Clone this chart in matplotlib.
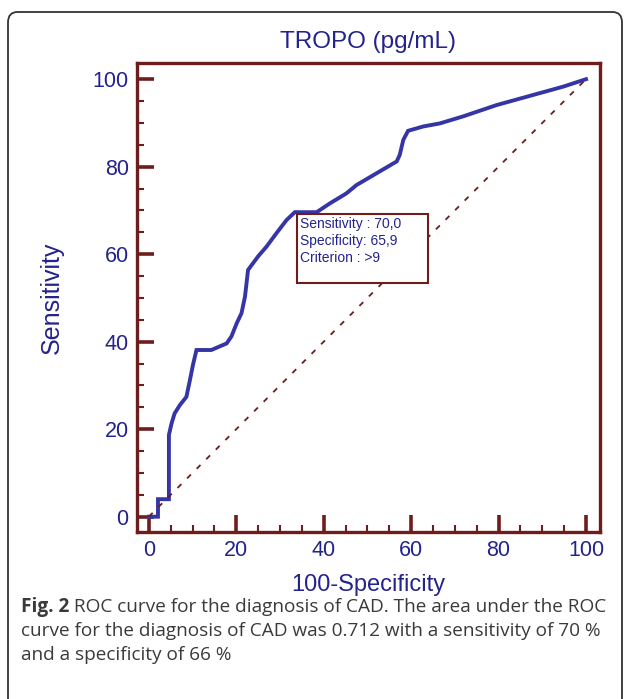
import matplotlib
matplotlib.use("Agg")
import matplotlib.pyplot as plt
from matplotlib.patches import FancyBboxPatch, Rectangle

# ROC curve points (100-Specificity, Sensitivity)
fpr = [0, 2.1, 2.1, 4.6, 4.6, 5.2, 5.9, 7.1, 8.6, 9.4, 10.1, 10.9, 14.3, 17.8,
       18.9, 20.1, 21.2, 22.0, 22.7, 25.0, 26.9, 29.2, 31.5, 33.4, 38.4, 41.4,
       45.2, 47.5, 52.1, 56.7, 57.4, 58.2, 59.3, 62.8, 66.6, 71.9, 79.6, 87.2,
       94.8, 100]
tpr = [0, 0, 4.0, 4.0, 18.7, 21.3, 23.6, 25.5, 27.4, 31.2, 34.7, 38.1, 38.1,
       39.6, 41.2, 44.2, 46.5, 50.3, 56.4, 59.5, 61.7, 64.8, 67.8, 69.6, 69.6,
       71.6, 73.9, 75.8, 78.5, 81.2, 82.7, 86.1, 88.2, 89.2, 89.9, 91.5, 94.1,
       96.2, 98.3, 100]
ticks = [0, 20, 40, 60, 80, 100]
box_lines = ["Sensitivity : 70,0", "Specificity: 65,9", "Criterion : >9"]
caption_bold = "Fig. 2"
caption = [" ROC curve for the diagnosis of CAD. The area under the ROC",
           "curve for the diagnosis of CAD was 0.712 with a sensitivity of 70 %",
           "and a specificity of 66 %"]

maroon = "#6e1c1c"
navy = "#23238c"
curve_col = "#3535a5"
grey = "#3a3a3a"

fig = plt.figure(figsize=(6.29, 6.99), dpi=100)
fig.patch.set_facecolor("white")

# rounded outer frame
fig.patches.append(FancyBboxPatch((8 / 629, -0.05), 614 / 629, 1.05 - 12 / 699,
                                  boxstyle="round,pad=0,rounding_size=0.015",
                                  transform=fig.transFigure, fill=False,
                                  edgecolor="#333333", linewidth=1.3))

ax = fig.add_axes([137 / 629, 1 - 532 / 699, 463 / 629, 469 / 699])
ax.plot(fpr, tpr, color=curve_col, linewidth=2.8, solid_joinstyle="miter")
ax.plot([0, 100], [0, 100], color=maroon, linewidth=1.3, linestyle=(0, (3, 4.5)))

ax.set_xlim(-2.7, 103.2)
ax.set_ylim(-3.5, 103.7)
ax.set_xticks(ticks)
ax.set_yticks(ticks)
ax.set_xticks(range(0, 101, 5), minor=True)
ax.set_yticks(range(0, 101, 5), minor=True)
for s in ax.spines.values():
    s.set_color(maroon)
    s.set_linewidth(2.4)
ax.tick_params(which="both", direction="in", color=maroon, top=False, right=False,
               labelcolor=navy, labelsize=15.5)
ax.tick_params(which="major", length=12, width=2.6, pad=6)
ax.tick_params(which="minor", length=5, width=1.5)
for lab in ax.get_xticklabels() + ax.get_yticklabels():
    lab.set_family("Liberation Sans")

ax.set_title("TROPO (pg/mL)", color=navy, fontsize=17.5, family="Liberation Sans", pad=11)
ax.set_xlabel("100-Specificity", color=navy, fontsize=17, family="Liberation Sans", labelpad=9)
ax.set_ylabel("Sensitivity", color=navy, fontsize=18, family="Liberation Sans", labelpad=21)

# criterion box
ax.add_patch(Rectangle((34.0, 53.5), 29.9, 15.7, fill=True, facecolor="white",
                       edgecolor=maroon, linewidth=1.5, zorder=3))
ax.text(34.6, 68.4, "\n".join(box_lines), color=navy, fontsize=10, va="top", ha="left",
        family="Liberation Sans", linespacing=1.25, zorder=4)

# caption
t = fig.text(21 / 629, 1 - 607 / 699, caption_bold, fontsize=13.7, fontweight="bold",
             color=grey, family="Open Sans", va="center")
fig.canvas.draw()
bb = t.get_window_extent()
fig.text(bb.x1 / fig.bbox.width, 1 - 607 / 699, caption[0], fontsize=13.7, color=grey,
         family="Open Sans", va="center")
fig.text(21 / 629, 1 - 631 / 699, caption[1], fontsize=13.7, color=grey,
         family="Open Sans", va="center")
fig.text(21 / 629, 1 - 655 / 699, caption[2], fontsize=13.7, color=grey,
         family="Open Sans", va="center")

fig.savefig("out.png", dpi=100)
